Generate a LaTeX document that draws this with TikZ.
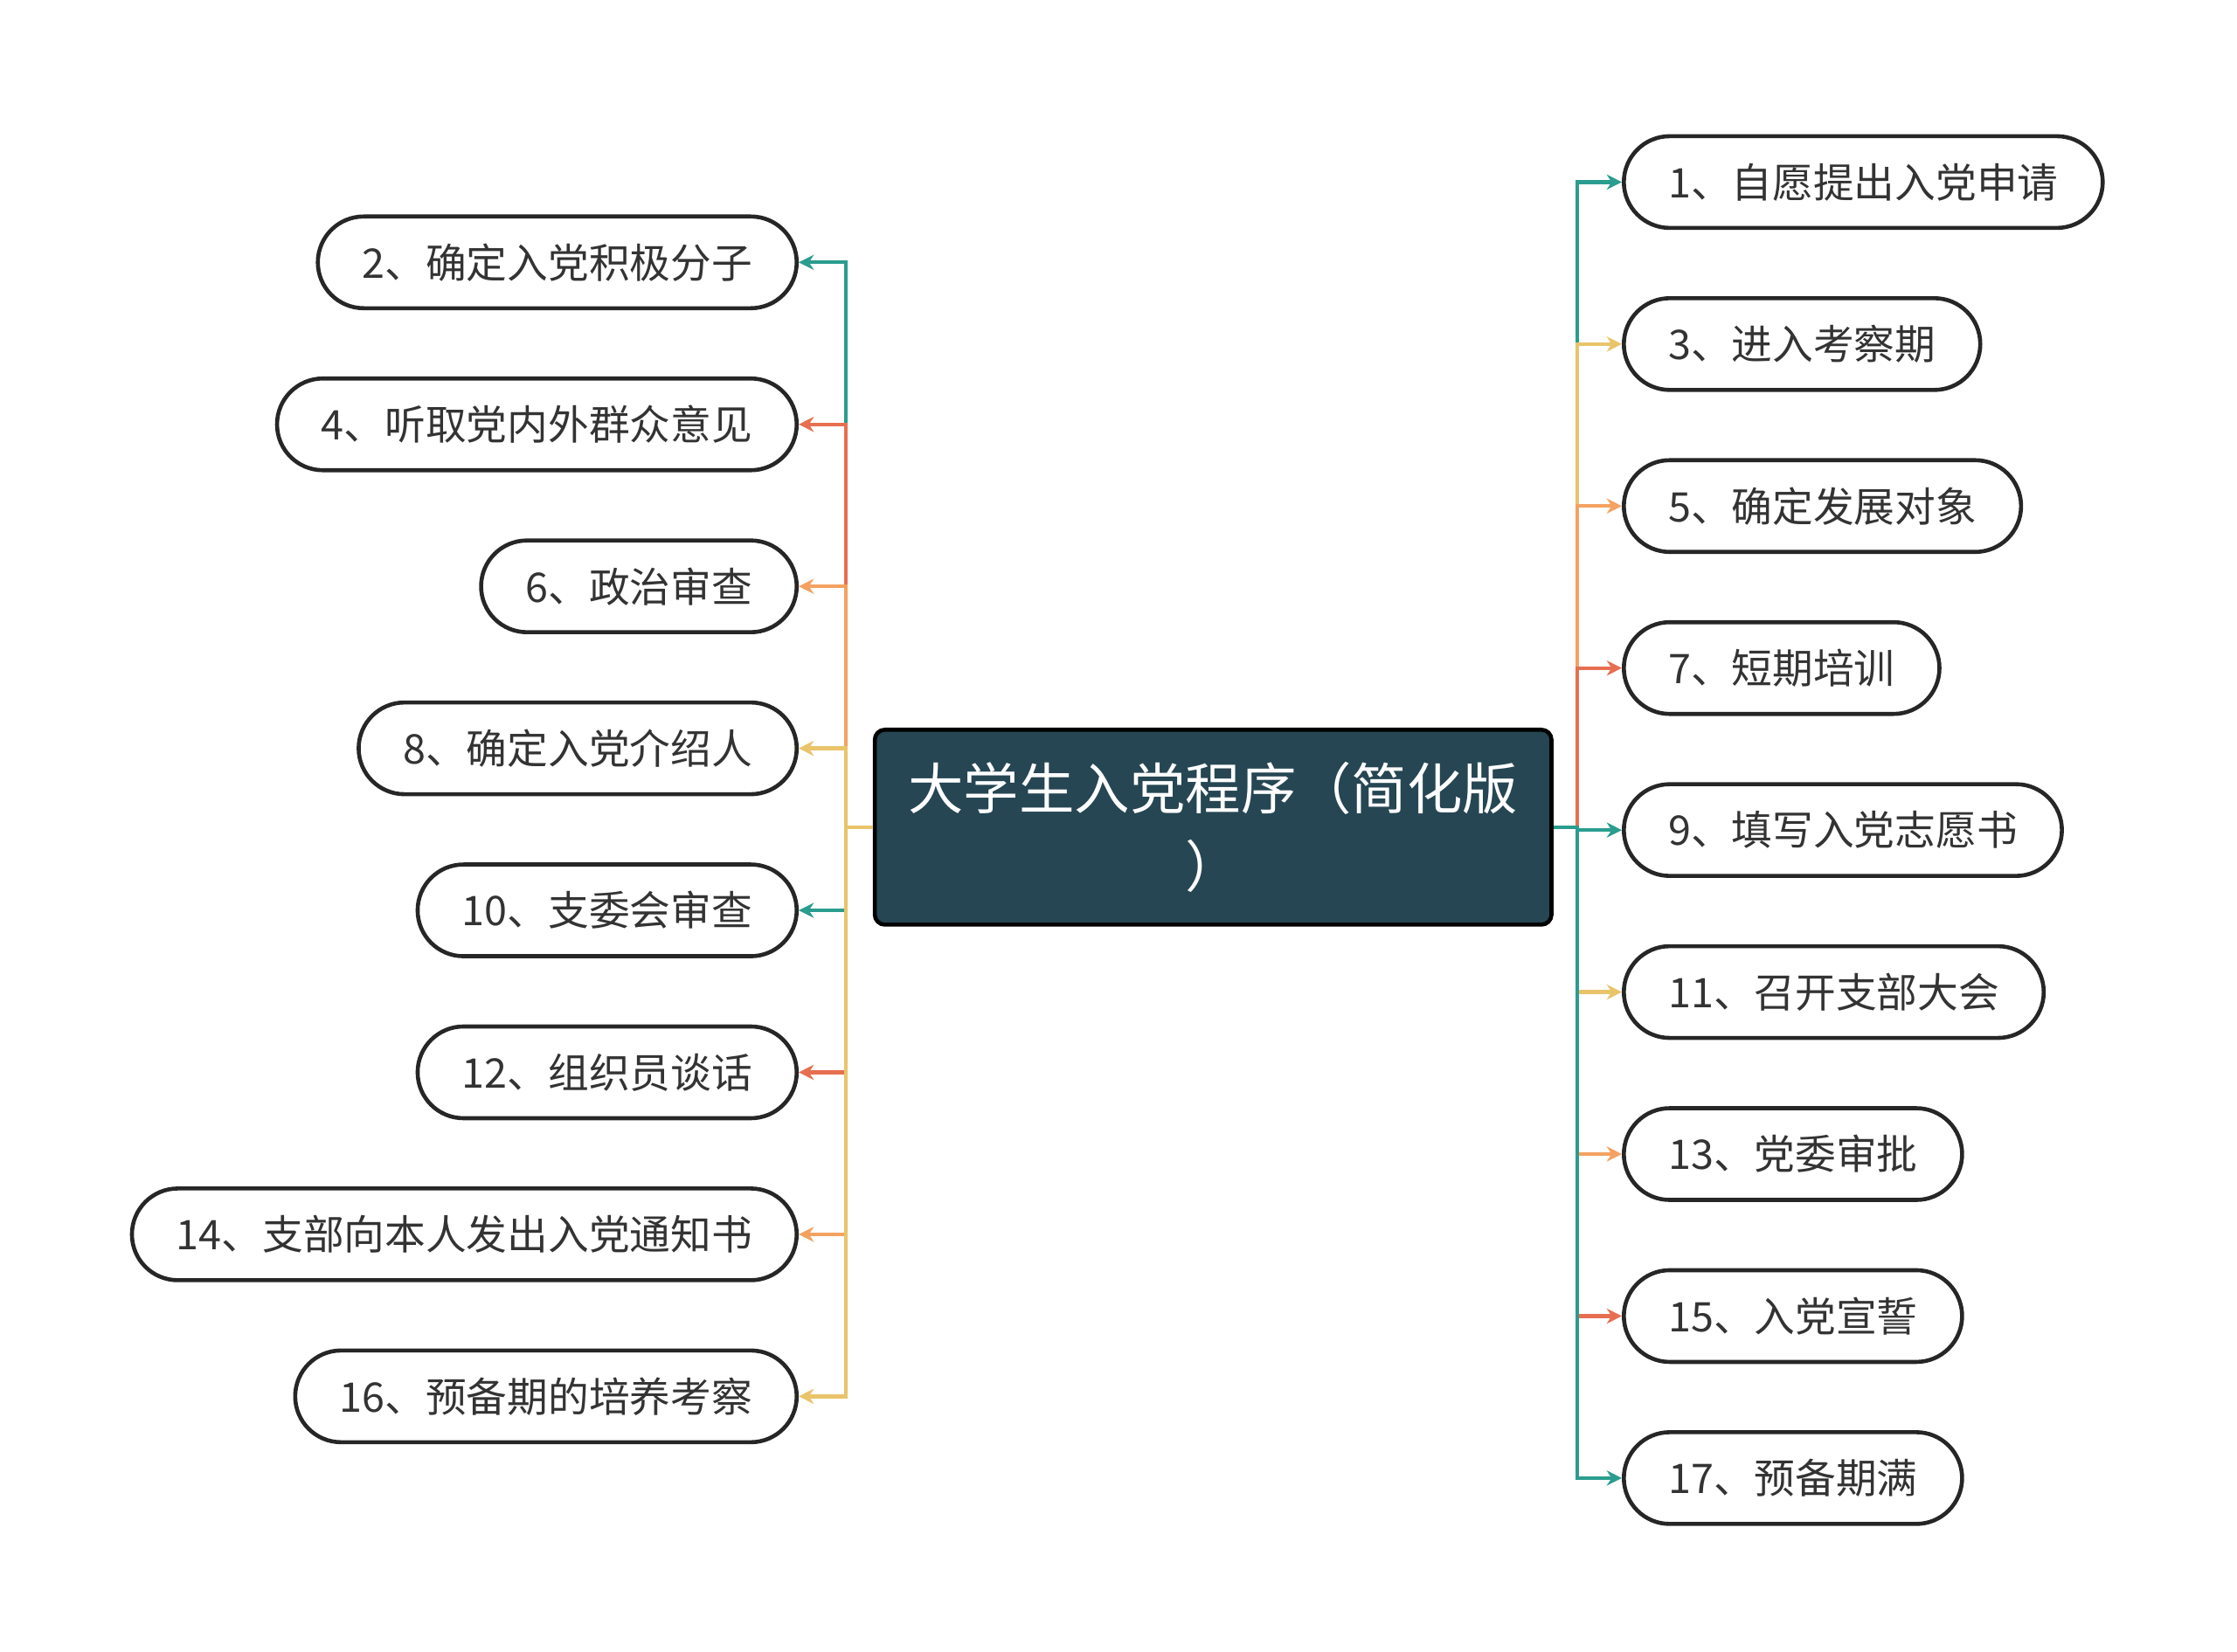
\documentclass[tikz,border=0pt]{standalone}
\usepackage{fontspec}
\setmainfont{Noto Sans CJK SC}
\usetikzlibrary{arrows.meta}
\definecolor{cteal}{HTML}{2A9D8F}
\definecolor{cyellow}{HTML}{E9C46A}
\definecolor{corange}{HTML}{F4A261}
\definecolor{cred}{HTML}{E76F51}
\definecolor{cdark}{HTML}{264653}
\tikzset{
  leaf/.style={draw=black!85, line width=1.6pt, rounded corners=0.64cm,
    minimum height=1.28cm, inner xsep=0.62cm, font=\fontsize{16.2}{19}\selectfont, text=black!80},
  link/.style={line width=1.5pt, -{Stealth[length=6pt,width=6pt]}}
}
\begin{document}
\begin{tikzpicture}[x=0.02cm,y=-0.02cm]
\useasboundingbox (0,0) rectangle (1560,1152);

% 中心主题
\node[draw=black, line width=1.6pt, fill=cdark, rounded corners=4pt, text=white,
  minimum width=9.44cm, minimum height=2.72cm, align=center,
  font=\fontsize{22}{31}\selectfont] (root) at (846,577) {大学生入党程序（简化版\\）};

% 右侧分支
\foreach \y/\t/\c [count=\i] in {
  127/1、自愿提出入党申请/cteal, 240/3、进入考察期/cyellow, 353/5、确定发展对象/corange,
  466/7、短期培训/cred, 579/9、填写入党志愿书/cteal, 692/11、召开支部大会/cyellow,
  805/13、党委审批/corange, 918/15、入党宣誓/cred, 1031/17、预备期满/cteal}{
  \node[leaf, anchor=west] (r\i) at (1131,\y) {\t};
  \draw[link, draw=\c] (root.east) -- (1100,577) |- (r\i.west);
}

% 左侧分支
\foreach \y/\t/\c [count=\i] in {
  183/2、确定入党积极分子/cteal, 296/4、听取党内外群众意见/cred, 409/6、政治审查/corange,
  522/8、确定入党介绍人/cyellow, 635/10、支委会审查/cteal, 748/12、组织员谈话/cred,
  861/14、支部向本人发出入党通知书/corange, 974/16、预备期的培养考察/cyellow}{
  \node[leaf, anchor=east] (l\i) at (557,\y) {\t};
  \draw[link, draw=\c] (root.west) -- (590,577) |- (l\i.east);
}
\end{tikzpicture}
\end{document}
